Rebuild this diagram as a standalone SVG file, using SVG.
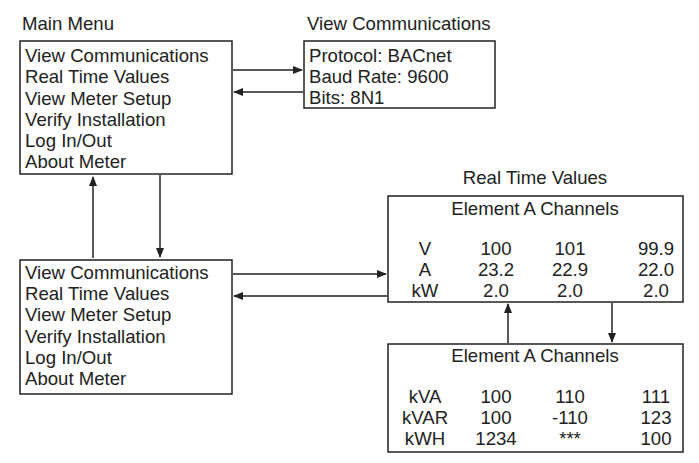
<svg xmlns="http://www.w3.org/2000/svg" width="699" height="463" viewBox="0 0 699 463">
<style>
text{font-family:"Liberation Sans",Arial,sans-serif;font-size:18.6px;fill:#222}
.c{text-anchor:middle}
.box{fill:#fff;stroke:#222;stroke-width:1.5}
.ln{stroke:#222;stroke-width:1.5;fill:none}
</style>
<defs><marker id="a" markerWidth="10" markerHeight="8" refX="9" refY="4" orient="auto" markerUnits="userSpaceOnUse"><path d="M0,0L10,4L0,8z" fill="#222"/></marker></defs>
<rect width="699" height="463" fill="#fff"/>
<g id="main-menu">
<text x="22" y="30">Main Menu</text>
<rect class="box" x="20" y="41" width="212" height="133"/>
<text x="25" y="62">View Communications</text><text x="25" y="83">Real Time Values</text><text x="25" y="105">View Meter Setup</text><text x="25" y="126">Verify Installation</text><text x="25" y="147">Log In/Out</text><text x="25" y="168">About Meter</text>
</g>
<g id="view-comm">
<text x="307" y="30">View Communications</text>
<rect class="box" x="304" y="41" width="191" height="67"/>
<text x="309" y="62">Protocol: BACnet</text><text x="309" y="83">Baud Rate: 9600</text><text x="309" y="104">Bits: 8N1</text>
</g>
<g id="main-menu-2">
<rect class="box" x="20" y="260" width="212" height="134"/>
<text x="25" y="279">View Communications</text><text x="25" y="300">Real Time Values</text><text x="25" y="321">View Meter Setup</text><text x="25" y="343">Verify Installation</text><text x="25" y="364">Log In/Out</text><text x="25" y="385">About Meter</text>
</g>
<g id="rtv1">
<text class="c" x="535" y="184">Real Time Values</text>
<rect class="box" x="388" y="196" width="295" height="106"/>
<text class="c" x="535" y="215">Element A Channels</text>
<text class="c" x="425" y="255">V</text><text class="c" x="496" y="255">100</text><text class="c" x="570" y="255">101</text><text class="c" x="656" y="255">99.9</text>
<text class="c" x="425" y="276">A</text><text class="c" x="496" y="276">23.2</text><text class="c" x="570" y="276">22.9</text><text class="c" x="656" y="276">22.0</text>
<text class="c" x="425" y="297">kW</text><text class="c" x="496" y="297">2.0</text><text class="c" x="570" y="297">2.0</text><text class="c" x="656" y="297">2.0</text>
</g>
<g id="rtv2">
<rect class="box" x="388" y="344" width="295" height="108"/>
<text class="c" x="535" y="362">Element A Channels</text>
<text class="c" x="425" y="403">kVA</text><text class="c" x="496" y="403">100</text><text class="c" x="570" y="403">110</text><text class="c" x="656" y="403">111</text>
<text class="c" x="425" y="424">kVAR</text><text class="c" x="496" y="424">100</text><text class="c" x="570" y="424">-110</text><text class="c" x="656" y="424">123</text>
<text class="c" x="425" y="445">kWH</text><text class="c" x="496" y="445">1234</text><text class="c" x="570" y="445">***</text><text class="c" x="656" y="445">100</text>
</g>
<g id="connectors">
<path class="ln" d="M233,70H302" marker-end="url(#a)"/>
<path class="ln" d="M303,92H234" marker-end="url(#a)"/>
<path class="ln" d="M93,258V177" marker-end="url(#a)"/>
<path class="ln" d="M160,175V257" marker-end="url(#a)"/>
<path class="ln" d="M233,274H386" marker-end="url(#a)"/>
<path class="ln" d="M387,296H234" marker-end="url(#a)"/>
<path class="ln" d="M508,343V304" marker-end="url(#a)"/>
<path class="ln" d="M612,303V342" marker-end="url(#a)"/>
</g>
</svg>
